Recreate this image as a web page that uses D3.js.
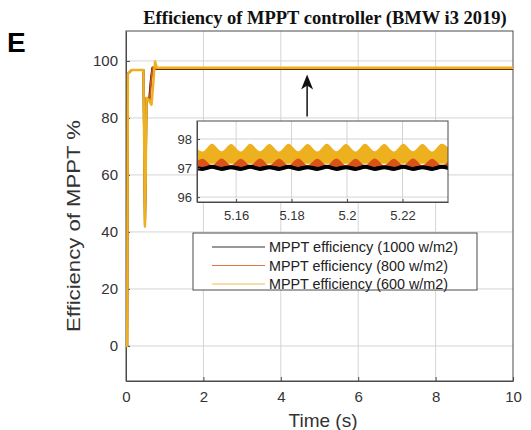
<!DOCTYPE html>
<html><head><meta charset="utf-8">
<script src="https://cdn.jsdelivr.net/npm/d3@7"></script>
<style>body{margin:0;background:#fff}svg{display:block}</style>
</head><body>
<script>
// ---- data ----
const xTicks = [0, 2, 4, 6, 8, 10];
const yTicks = [0, 20, 40, 60, 80, 100];
const insetXTicks = [5.16, 5.18, 5.2, 5.22];
const insetYTicks = [96, 97, 98];
const seriesNames = ["MPPT efficiency (1000 w/m2)", "MPPT efficiency (800 w/m2)", "MPPT efficiency (600 w/m2)"];
const seriesColors = ["#000000", "#D95319", "#EDB120"];

// main traces (time s, efficiency %)
const blackT = [0, 0.03, 0.05, 0.15, 0.45, 0.49, 0.51, 0.53, 0.55, 0.60, 0.64, 0.68, 0.75, 10];
const blackV = [0, 0, 95.5, 96.8, 96.8, 42, 60, 87, 87, 86.5, 93, 97.5, 97.2, 97.2];
const orangeT = [0, 0.03, 0.05, 0.15, 0.45, 0.49, 0.51, 0.53, 0.55, 0.61, 0.65, 0.69, 0.76, 10];
const orangeV = [0, 0, 95.5, 96.8, 96.8, 42, 60, 87, 87, 86, 93, 97.8, 97.35, 97.35];
const yellowT = [0, 0.03, 0.05, 0.15, 0.45, 0.49, 0.51, 0.53, 0.55, 0.60, 0.66, 0.71, 0.75, 0.80, 10];
const yellowV = [0, 0, 95.5, 96.8, 96.8, 42, 60, 87, 87, 86, 84.6, 93, 99.8, 97.6, 97.6];

// inset (zoom) traces
const insetT = [5.1444, 5.1479, 5.1513, 5.1548, 5.1582, 5.1617, 5.1651, 5.1686, 5.1720, 5.1755,
                5.1789, 5.1824, 5.1858, 5.1893, 5.1927, 5.1962, 5.1996, 5.2031, 5.2065, 5.2100,
                5.2134, 5.2169, 5.2203, 5.2238, 5.2272, 5.2307, 5.2341, 5.2376];
const yellowHigh = [97.83, 97.57, 97.84, 97.58, 97.83, 97.57, 97.84, 97.58, 97.83, 97.57,
                    97.84, 97.58, 97.83, 97.57, 97.84, 97.58, 97.83, 97.57, 97.84, 97.58,
                    97.83, 97.57, 97.84, 97.58, 97.83, 97.57, 97.84, 97.58];
const orangeHigh = [97.10, 97.32, 97.10, 97.33, 97.10, 97.32, 97.10, 97.33, 97.10, 97.32,
                    97.10, 97.33, 97.10, 97.32, 97.10, 97.33, 97.10, 97.32, 97.10, 97.33,
                    97.10, 97.32, 97.10, 97.33, 97.10, 97.32, 97.10, 97.33];
const blackLine = [97.03, 96.97, 97.04, 96.97, 97.03, 96.97, 97.04, 96.97, 97.03, 96.97,
                   97.04, 96.97, 97.03, 96.97, 97.04, 96.97, 97.03, 96.97, 97.04, 96.97,
                   97.03, 96.97, 97.04, 96.97, 97.03, 96.97, 97.04, 96.97];
const yellowLow = 97.15;
const orangeLow = 96.98;

// arrow (data coords)
const arrowX = 4.68, arrowFrom = 80.5, arrowTo = 95.2;

// ---- drawing ----
const W = 531, H = 430;
const svg = d3.select("body").append("svg").attr("width", W).attr("height", H);
const x = d3.scaleLinear().domain([0, 10]).range([126, 513]);
const y = d3.scaleLinear().domain([-12.3, 110.5]).range([381, 31]);
const gridC = "#d4d4d4", axC = "#4a4a4a", txtC = "#333";
const sans = "Liberation Sans, Arial, sans-serif";

// grid
svg.append("g").selectAll("line").data(xTicks.slice(1, -1)).join("line")
  .attr("x1", d => x(d)).attr("x2", d => x(d)).attr("y1", 31).attr("y2", 381)
  .attr("stroke", gridC);
svg.append("g").selectAll("line").data(yTicks).join("line")
  .attr("y1", d => y(d)).attr("y2", d => y(d)).attr("x1", 126).attr("x2", 513)
  .attr("stroke", gridC);

// axes
const xAxis = svg.append("g").attr("transform", "translate(0,381)")
  .call(d3.axisBottom(x).tickValues(xTicks).tickFormat(d3.format("d")).tickSizeInner(-4).tickSizeOuter(0).tickPadding(10));
const yAxis = svg.append("g").attr("transform", "translate(126,0)")
  .call(d3.axisLeft(y).tickValues(yTicks).tickFormat(d3.format("d")).tickSizeInner(-4).tickSizeOuter(0).tickPadding(8));
[xAxis, yAxis].forEach(g => {
  g.select(".domain").attr("stroke", axC);
  g.selectAll(".tick line").attr("stroke", axC);
  g.selectAll("text").attr("font-family", sans).attr("font-size", 15).attr("fill", txtC);
});
// box
svg.append("rect").attr("x", 126).attr("y", 31).attr("width", 387).attr("height", 350)
  .attr("fill", "none").attr("stroke", axC);

// traces
svg.append("clipPath").attr("id", "cm").append("rect")
  .attr("x", 126).attr("y", 31).attr("width", 387).attr("height", 350);
const line = d3.line().x(d => x(d[0])).y(d => y(d[1]));
const traces = [[blackT, blackV], [orangeT, orangeV], [yellowT, yellowV]];
const gTr = svg.append("g").attr("clip-path", "url(#cm)");
traces.forEach((tr, i) => {
  gTr.append("path").datum(tr[0].map((t, j) => [t, tr[1][j]]))
    .attr("d", line).attr("fill", "none").attr("stroke", seriesColors[i])
    .attr("stroke-width", i === 2 ? 2.4 : 2).attr("stroke-linejoin", "round");
});

// arrow
const ax = x(arrowX), ay1 = y(arrowFrom), ay2 = y(arrowTo);
svg.append("line").attr("x1", ax).attr("x2", ax).attr("y1", ay1).attr("y2", ay2 + 10)
  .attr("stroke", "#111").attr("stroke-width", 1.5);
svg.append("path").attr("d", `M${ax},${ay2} L${ax - 6},${ay2 + 15} L${ax},${ay2 + 11} L${ax + 6},${ay2 + 15} Z`)
  .attr("fill", "#111");

// title
svg.append("text").attr("x", 325).attr("y", 24).attr("text-anchor", "middle")
  .attr("font-family", "Liberation Serif, Times New Roman, serif").attr("font-weight", "bold")
  .attr("font-size", 18.5).attr("fill", "#111").text("Efficiency of MPPT controller (BMW i3 2019)");
// panel letter
svg.append("text").attr("x", 7).attr("y", 52).attr("font-family", sans).attr("font-weight", "bold")
  .attr("font-size", 28).attr("fill", "#000").text("E");
// axis labels
svg.append("text").attr("x", 323).attr("y", 427).attr("text-anchor", "middle")
  .attr("font-family", sans).attr("font-size", 19).attr("fill", txtC).text("Time (s)");
svg.append("text").attr("transform", "translate(80,226) rotate(-90)").attr("text-anchor", "middle")
  .attr("font-family", sans).attr("font-size", 19).attr("textLength", 212).attr("lengthAdjust", "spacingAndGlyphs")
  .attr("fill", txtC).text("Efficiency of MPPT %");

// ---- inset ----
const ix = d3.scaleLinear().domain([5.1459, 5.2364]).range([197, 448]);
const iy = d3.scaleLinear().domain([95.83, 98.62]).range([202, 121]);
svg.append("rect").attr("x", 197).attr("y", 121).attr("width", 251).attr("height", 81).attr("fill", "#fff");
svg.append("g").selectAll("line").data(insetXTicks).join("line")
  .attr("x1", d => ix(d)).attr("x2", d => ix(d)).attr("y1", 121).attr("y2", 202).attr("stroke", gridC);
svg.append("g").selectAll("line").data(insetYTicks).join("line")
  .attr("y1", d => iy(d)).attr("y2", d => iy(d)).attr("x1", 197).attr("x2", 448).attr("stroke", gridC);
svg.append("clipPath").attr("id", "ci").append("rect")
  .attr("x", 197).attr("y", 121).attr("width", 251).attr("height", 81);
const gi = svg.append("g").attr("clip-path", "url(#ci)");
const yArea = d3.area().curve(d3.curveMonotoneX).x((d, j) => ix(insetT[j])).y0(iy(yellowLow)).y1(d => iy(d));
gi.append("path").datum(yellowHigh).attr("d", yArea).attr("fill", seriesColors[2]);
const oArea = d3.area().curve(d3.curveMonotoneX).x((d, j) => ix(insetT[j])).y0(iy(orangeLow)).y1(d => iy(d));
gi.append("path").datum(orangeHigh).attr("d", oArea).attr("fill", seriesColors[1]);
const bLine = d3.line().curve(d3.curveMonotoneX).x((d, j) => ix(insetT[j])).y(d => iy(d));
gi.append("path").datum(blackLine).attr("d", bLine).attr("fill", "none")
  .attr("stroke", "#000").attr("stroke-width", 4);
const ixAxis = svg.append("g").attr("transform", "translate(0,202)")
  .call(d3.axisBottom(ix).tickValues(insetXTicks).tickFormat(d => d3.format("")(d)).tickSizeInner(-3).tickSizeOuter(0).tickPadding(9));
const iyAxis = svg.append("g").attr("transform", "translate(197,0)")
  .call(d3.axisLeft(iy).tickValues(insetYTicks).tickFormat(d3.format("d")).tickSizeInner(-3).tickSizeOuter(0).tickPadding(5));
[ixAxis, iyAxis].forEach(g => {
  g.select(".domain").attr("stroke", axC);
  g.selectAll(".tick line").attr("stroke", axC);
  g.selectAll("text").attr("font-family", sans).attr("font-size", 13).attr("fill", txtC);
});
svg.append("rect").attr("x", 197).attr("y", 121).attr("width", 251).attr("height", 81)
  .attr("fill", "none").attr("stroke", axC);

// ---- legend ----
const lg = svg.append("g");
lg.append("rect").attr("x", 193).attr("y", 233).attr("width", 284).attr("height", 57)
  .attr("fill", "#fff").attr("stroke", axC);
const lgRows = lg.selectAll("g").data(seriesNames).join("g")
  .attr("transform", (d, i) => `translate(0,${247 + i * 18.5})`);
lgRows.append("line").attr("x1", 212).attr("x2", 265).attr("y1", 0).attr("y2", 0)
  .attr("stroke", (d, i) => seriesColors[i]).attr("stroke-width", 1.2).attr("opacity", 0.8);
lgRows.append("text").attr("x", 269).attr("y", 5).attr("font-family", sans).attr("font-size", 14.5)
  .attr("textLength", (d, i) => i === 0 ? 189 : 179).attr("lengthAdjust", "spacingAndGlyphs")
  .attr("fill", "#222").text(d => d);
</script>
</body></html>
